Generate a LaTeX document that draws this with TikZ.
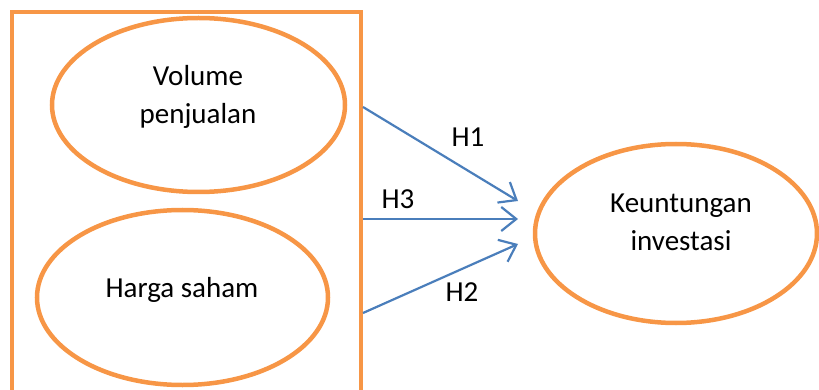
\documentclass[tikz,border=0pt]{standalone}
\usepackage{fontspec}
\setmainfont{Carlito}
\usetikzlibrary{arrows.meta,shapes.geometric}
\definecolor{frameorange}{HTML}{F79646}
\definecolor{linkblue}{HTML}{4A7EBB}
\begin{document}
\begin{tikzpicture}[x=1pt,y=-1pt,
  varellipse/.style={draw=frameorange,line width=4.5pt,ellipse,inner sep=0pt},
  lbl/.style={font=\fontsize{29}{38}\selectfont,anchor=base,inner sep=0pt},
  link/.style={draw=linkblue,line width=2.2pt,-{Straight Barb[length=15pt,width=24pt]}}]
\useasboundingbox (0,0) rectangle (819,390);
\clip (0,0) rectangle (819,390);
% grouping frame, open at the bottom edge of the page
\draw[frameorange,line width=4.5pt] (12,400) -- (12,12) -- (361,12) -- (361,400);
% variables
\node[varellipse,minimum width=293pt,minimum height=174pt] (vol) at (198.5,105) {};
\node[varellipse,minimum width=291pt,minimum height=175pt] (harga) at (182.5,297.5) {};
\node[varellipse,minimum width=282pt,minimum height=179pt] (untung) at (676,233.5) {};
\node[lbl] (volA) at (198,86) {Volume};
\node[lbl] (volB) at (198,124) {penjualan};
\node[lbl] (hargaT) at (182,297) {Harga saham};
\node[lbl] (untA) at (681,212) {Keuntungan};
\node[lbl] (untB) at (681,250) {investasi};
% hypothesis links
\coordinate (s1) at (363,107);
\coordinate (s3) at (363,219);
\coordinate (s2) at (363,313);
\coordinate (e1) at (518,201);
\coordinate (e3) at (518,219);
\coordinate (e2) at (518,244);
\draw[link] (s1) -- (e1);
\draw[link] (s3) -- (e3);
\draw[link] (s2) -- (e2);
\node[lbl] (h1) at (468,147) {H1};
\node[lbl] (h3) at (398,209) {H3};
\node[lbl] (h2) at (462,301) {H2};
\end{tikzpicture}
\end{document}
